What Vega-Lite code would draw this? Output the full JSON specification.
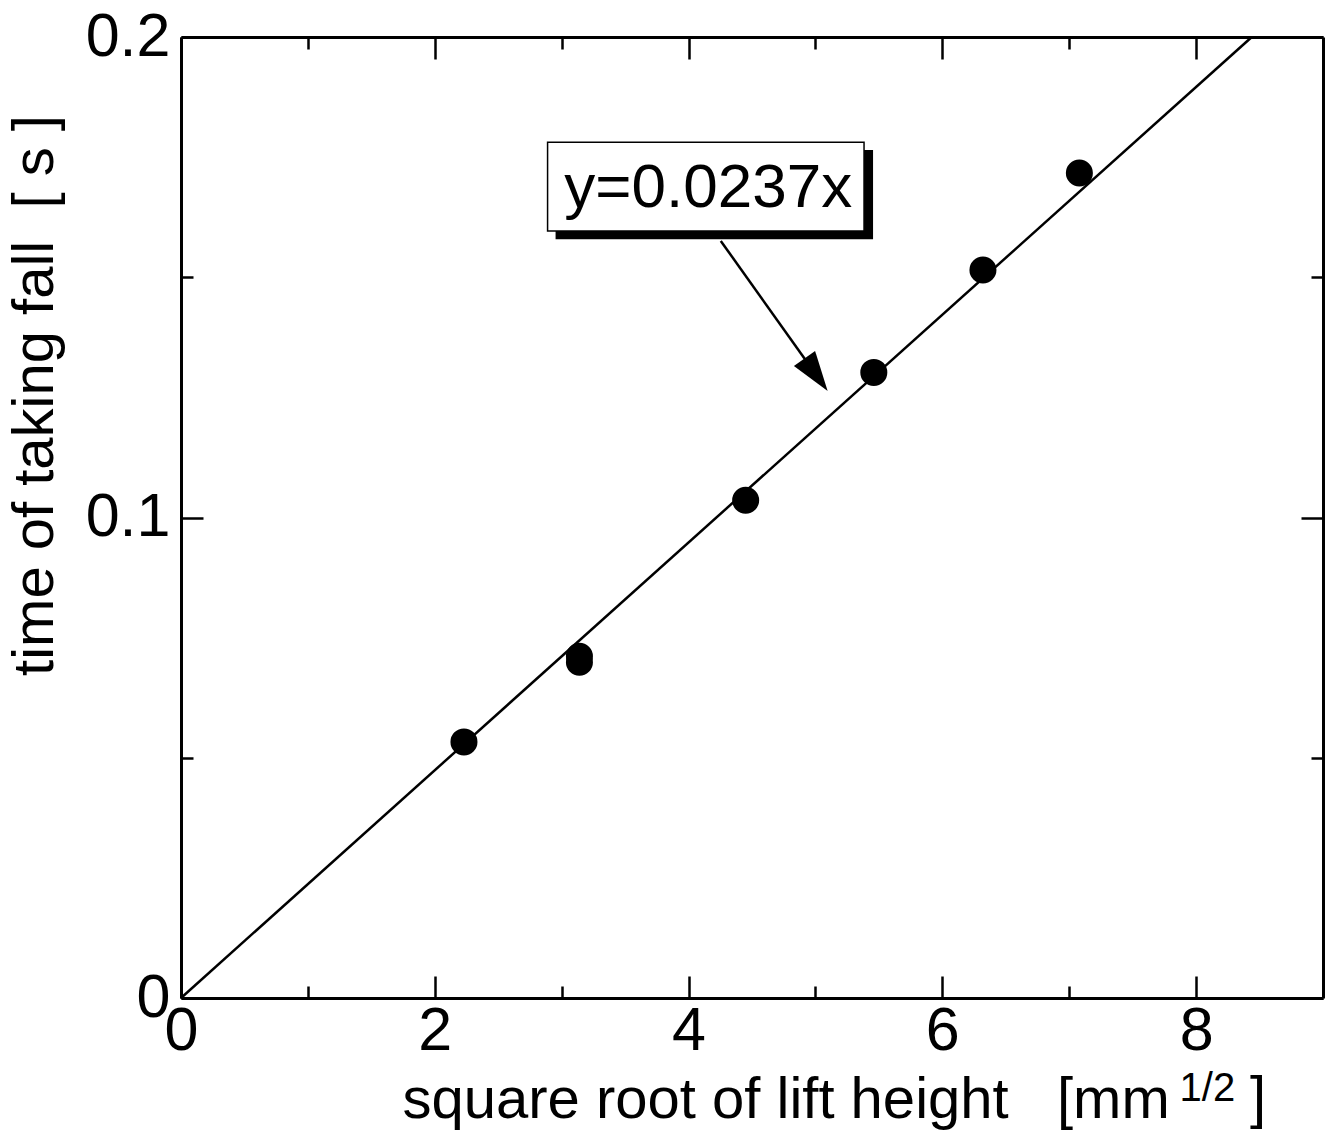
{
  "$schema": "https://vega.github.io/schema/vega-lite/v6.json",
  "width": 1142,
  "height": 961,
  "autosize": "none",
  "padding": {"left": 181, "top": 37, "right": 10, "bottom": 139},
  "background": "white",
  "config": {
    "view": {"stroke": null},
    "font": "Liberation Sans",
    "axis": {
      "grid": false,
      "domainColor": "black",
      "domainWidth": 3,
      "tickColor": "black",
      "tickWidth": 2.5,
      "labelColor": "black",
      "labelFont": "Liberation Sans",
      "labelFontSize": 61,
      "labelFlush": false,
      "labelOverlap": false,
      "titleColor": "black",
      "titleFont": "Liberation Sans",
      "titleFontSize": 58,
      "titleFontWeight": "normal"
    }
  },
  "resolve": {"axis": {"x": "independent", "y": "independent"}},
  "layer": [
    {
      "description": "least-squares fit through the origin, y = 0.0237x; carries the top and right frame axes",
      "data": {"values": [{"sqrt_h": 0, "t": 0}, {"sqrt_h": 8.4388, "t": 0.2}]},
      "mark": {"type": "line", "color": "black", "strokeWidth": 2.5},
      "encoding": {
        "x": {
          "field": "sqrt_h", "type": "quantitative",
          "scale": {"domain": [0, 9], "nice": false, "zero": false},
          "axis": {
            "orient": "top", "values": [0, 1, 2, 3, 4, 5, 6, 7, 8],
            "labels": false, "title": null,
            "tickSize": {"condition": {"test": "datum.value % 2 === 0", "value": -22}, "value": -12}
          }
        },
        "y": {
          "field": "t", "type": "quantitative",
          "scale": {"domain": [0, 0.2], "nice": false, "zero": false},
          "axis": {
            "orient": "right", "values": [0, 0.05, 0.1, 0.15, 0.2],
            "labels": false, "title": null,
            "tickSize": {"condition": {"test": "abs(datum.value * 10 - round(datum.value * 10)) < 0.001", "value": -22}, "value": -12}
          }
        }
      }
    },
    {
      "description": "measured fall times",
      "data": {
        "values": [
          {"sqrt_h": 2.23, "t": 0.0533},
          {"sqrt_h": 3.14, "t": 0.0711},
          {"sqrt_h": 3.14, "t": 0.0699},
          {"sqrt_h": 4.45, "t": 0.1036},
          {"sqrt_h": 5.46, "t": 0.1302},
          {"sqrt_h": 6.32, "t": 0.1515},
          {"sqrt_h": 7.08, "t": 0.1717}
        ]
      },
      "mark": {"type": "point", "shape": "circle", "filled": true, "color": "black", "opacity": 1, "size": 730},
      "encoding": {
        "x": {
          "field": "sqrt_h", "type": "quantitative",
          "scale": {"domain": [0, 9], "nice": false, "zero": false},
          "axis": {
            "orient": "bottom", "values": [0, 1, 2, 3, 4, 5, 6, 7, 8],
            "labelExpr": "datum.value % 2 === 0 ? format(datum.value, 'd') : ''",
            "labelPadding": 25,
            "tickSize": {"condition": {"test": "datum.value % 2 === 0", "value": -22}, "value": -12},
            "title": "square root of lift height\u00a0\u00a0\u00a0[mm",
            "titleAlign": "left",
            "titleAnchor": "start",
            "titleBaseline": "alphabetic",
            "titleX": 221,
            "titleY": 119
          }
        },
        "y": {
          "field": "t", "type": "quantitative",
          "scale": {"domain": [0, 0.2], "nice": false, "zero": false},
          "axis": {
            "orient": "left", "values": [0, 0.05, 0.1, 0.15, 0.2],
            "labelExpr": "abs(datum.value * 10 - round(datum.value * 10)) < 0.001 ? format(datum.value, '~g') : ''",
            "labelPadding": 33,
            "labelBaseline": "middle",
            "tickSize": {"condition": {"test": "abs(datum.value * 10 - round(datum.value * 10)) < 0.001", "value": -22}, "value": -12},
            "title": "time of taking fall\u00a0\u00a0[ s ]",
            "titleAngle": 270,
            "titleAlign": "center",
            "titleBaseline": "alphabetic",
            "titleX": -129,
            "titleY": 358
          }
        }
      }
    },
    {
      "description": "drop shadow behind the equation box",
      "data": {"values": [{"x0": 2.952, "x1": 5.454, "y0": 0.1765, "y1": 0.1579}]},
      "mark": {"type": "rect", "color": "black"},
      "encoding": {
        "x": {"field": "x0", "type": "quantitative", "scale": {"domain": [0, 9], "nice": false, "zero": false}, "axis": null},
        "x2": {"field": "x1"},
        "y": {"field": "y0", "type": "quantitative", "scale": {"domain": [0, 0.2], "nice": false, "zero": false}, "axis": null},
        "y2": {"field": "y1"}
      }
    },
    {
      "description": "equation box",
      "data": {"values": [{"x0": 2.889, "x1": 5.383, "y0": 0.1781, "y1": 0.1596}]},
      "mark": {"type": "rect", "fill": "white", "stroke": "black", "strokeWidth": 1.5},
      "encoding": {
        "x": {"field": "x0", "type": "quantitative", "scale": {"domain": [0, 9], "nice": false, "zero": false}, "axis": null},
        "x2": {"field": "x1"},
        "y": {"field": "y0", "type": "quantitative", "scale": {"domain": [0, 0.2], "nice": false, "zero": false}, "axis": null},
        "y2": {"field": "y1"}
      }
    },
    {
      "description": "equation text",
      "data": {"values": [{"x": 4.155, "y": 0.1646, "label": "y=0.0237x"}]},
      "mark": {"type": "text", "font": "Liberation Sans", "fontSize": 62, "color": "black", "align": "center", "baseline": "alphabetic"},
      "encoding": {
        "x": {"field": "x", "type": "quantitative", "scale": {"domain": [0, 9], "nice": false, "zero": false}, "axis": null},
        "y": {"field": "y", "type": "quantitative", "scale": {"domain": [0, 0.2], "nice": false, "zero": false}, "axis": null},
        "text": {"field": "label"}
      }
    },
    {
      "description": "arrow shaft from the box to the fit line",
      "data": {"values": [{"x0": 4.254, "y0": 0.15756, "x1": 5.005, "y1": 0.1297}]},
      "mark": {"type": "rule", "color": "black", "strokeWidth": 2.5},
      "encoding": {
        "x": {"field": "x0", "type": "quantitative", "scale": {"domain": [0, 9], "nice": false, "zero": false}, "axis": null},
        "y": {"field": "y0", "type": "quantitative", "scale": {"domain": [0, 0.2], "nice": false, "zero": false}, "axis": null},
        "x2": {"field": "x1"},
        "y2": {"field": "y1"}
      }
    },
    {
      "description": "arrow head",
      "data": {"values": [{"x": 5.005, "y": 0.1297}]},
      "mark": {"type": "point", "shape": "M0,-1L0.65,1L-0.65,1Z", "filled": true, "color": "black", "opacity": 1, "size": 1600, "angle": 144.6},
      "encoding": {
        "x": {"field": "x", "type": "quantitative", "scale": {"domain": [0, 9], "nice": false, "zero": false}, "axis": null},
        "y": {"field": "y", "type": "quantitative", "scale": {"domain": [0, 0.2], "nice": false, "zero": false}, "axis": null}
      }
    },
    {
      "description": "exponent of the unit mm^(1/2) in the x-axis title",
      "data": {"values": [{"x": 7.87, "y": -0.0215, "label": "1/2"}]},
      "mark": {"type": "text", "font": "Liberation Sans", "fontSize": 40, "color": "black", "align": "left", "baseline": "alphabetic"},
      "encoding": {
        "x": {"field": "x", "type": "quantitative", "scale": {"domain": [0, 9], "nice": false, "zero": false}, "axis": null},
        "y": {"field": "y", "type": "quantitative", "scale": {"domain": [0, 0.2], "nice": false, "zero": false}, "axis": null},
        "text": {"field": "label"}
      }
    },
    {
      "description": "closing bracket of the x-axis unit",
      "data": {"values": [{"x": 8.424, "y": -0.02477, "label": "]"}]},
      "mark": {"type": "text", "font": "Liberation Sans", "fontSize": 58, "color": "black", "align": "left", "baseline": "alphabetic"},
      "encoding": {
        "x": {"field": "x", "type": "quantitative", "scale": {"domain": [0, 9], "nice": false, "zero": false}, "axis": null},
        "y": {"field": "y", "type": "quantitative", "scale": {"domain": [0, 0.2], "nice": false, "zero": false}, "axis": null},
        "text": {"field": "label"}
      }
    }
  ]
}
